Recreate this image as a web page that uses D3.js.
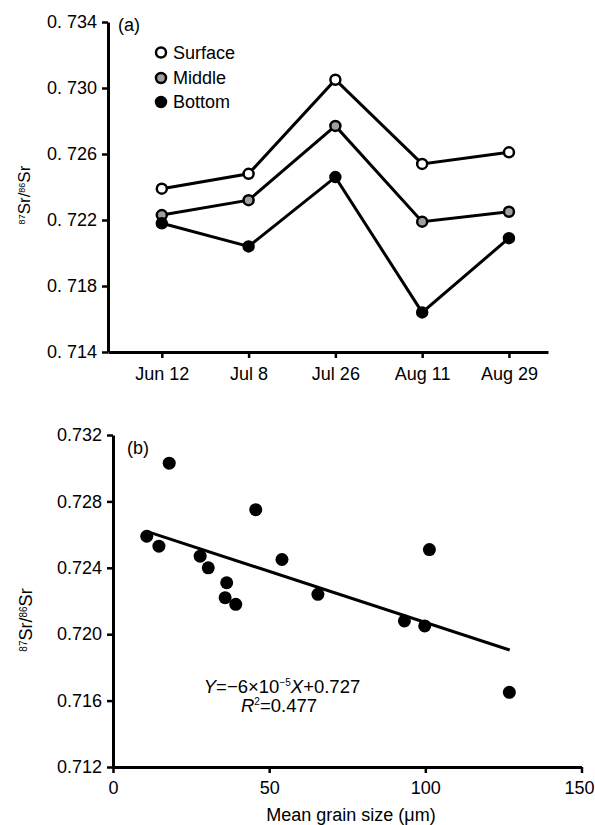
<!DOCTYPE html>
<html>
<head>
<meta charset="utf-8">
<script src="https://cdn.jsdelivr.net/npm/d3@7"></script>
<style>
  html, body { margin: 0; padding: 0; background: #fff; }
  svg { display: block; font-family: "Liberation Sans", Arial, sans-serif; }
</style>
</head>
<body>
<svg id="chart" width="595" height="825"></svg>
<script>
// ---------- Data: panel (a) ----------
const dates = ["Jun 12", "Jul 8", "Jul 26", "Aug 11", "Aug 29"];
const surface = [0.7239, 0.7248, 0.7305, 0.7254, 0.7261];
const middle  = [0.7223, 0.7232, 0.7277, 0.7219, 0.7225];
const bottom  = [0.7218, 0.7204, 0.7246, 0.7164, 0.7209];
const seriesNames = ["Surface", "Middle", "Bottom"];
const yTicksA = [0.714, 0.718, 0.722, 0.726, 0.730, 0.734];

// ---------- Data: panel (b) ----------
const grainSize = [10.8, 14.7, 18.0, 27.9, 30.5, 36.4, 35.9, 39.3, 45.7, 54.1, 65.6, 93.3, 99.8, 101.3, 126.9];
const srRatio   = [0.7259, 0.7253, 0.7303, 0.7247, 0.7240, 0.7231, 0.7222, 0.7218, 0.7275, 0.7245, 0.7224, 0.7208, 0.7205, 0.7251, 0.7165];
const fitSlope = -6.15e-5;
const fitIntercept = 0.72686;
const fitRange = [11, 127];
const xTicksB = [0, 50, 100, 150];
const yTicksB = [0.712, 0.716, 0.720, 0.724, 0.728, 0.732];

const svg = d3.select("#chart");
const FONT = "18px";

function styleAxis(g) {
  g.select(".domain").attr("stroke", "#000").attr("stroke-width", 3);
  g.selectAll(".tick line").attr("stroke", "#000").attr("stroke-width", 2.5);
  g.selectAll(".tick text").attr("fill", "#000").style("font-size", FONT)
    .style("font-family", '"Liberation Sans", Arial, sans-serif');
}

// ================= Panel (a) =================
const xA = d3.scaleLinear().domain([-0.62, 4.45]).range([108, 548]);
const yA = d3.scaleLinear().domain([0.714, 0.734]).range([352, 22]);

const gAy = svg.append("g").attr("transform", "translate(108,0)")
  .call(d3.axisLeft(yA).tickValues(yTicksA).tickSize(6).tickSizeOuter(0).tickPadding(5)
    .tickFormat(d => d3.format(".3f")(d).replace(".", ". ")));
styleAxis(gAy);

const gAx = svg.append("g").attr("transform", "translate(0,352)")
  .call(d3.axisBottom(xA).tickValues(d3.range(dates.length)).tickSize(6).tickSizeOuter(0).tickPadding(9)
    .tickFormat(i => dates[i]));
styleAxis(gAx);

const line = d3.line().x((d, i) => xA(i)).y(d => yA(d));
const seriesData = [surface, middle, bottom];
const fills = ["#fff", "#a0a0a0", "#000"];

seriesData.forEach((s) => {
  svg.append("path").datum(s).attr("d", line)
    .attr("fill", "none").attr("stroke", "#000").attr("stroke-width", 3);
});
seriesData.forEach((s, k) => {
  svg.append("g").selectAll("circle").data(s).join("circle")
    .attr("cx", (d, i) => xA(i)).attr("cy", d => yA(d)).attr("r", 5)
    .attr("fill", fills[k]).attr("stroke", "#000").attr("stroke-width", 2.5);
});

// legend
const legY = [52.5, 78, 102];
seriesNames.forEach((n, k) => {
  svg.append("circle").attr("cx", 161).attr("cy", legY[k]).attr("r", 5)
    .attr("fill", fills[k]).attr("stroke", "#000").attr("stroke-width", 2.5);
  svg.append("text").attr("x", 173).attr("y", legY[k]).attr("dy", "0.36em")
    .style("font-size", FONT).text(n);
});

svg.append("text").attr("x", 118).attr("y", 31).style("font-size", FONT).text("(a)");

// y label (a)
const yLabA = svg.append("text")
  .attr("transform", "translate(30,195) rotate(-90)")
  .attr("text-anchor", "middle").style("font-size", "17px");
yLabA.append("tspan").attr("baseline-shift", "super").style("font-size", "9px").text("87");
yLabA.append("tspan").text("Sr/");
yLabA.append("tspan").attr("baseline-shift", "super").style("font-size", "9px").text("86");
yLabA.append("tspan").text("Sr");

// ================= Panel (b) =================
const xB = d3.scaleLinear().domain([0, 150]).range([113, 581.5]);
const yB = d3.scaleLinear().domain([0.712, 0.732]).range([767, 435]);

const gBy = svg.append("g").attr("transform", "translate(113,0)")
  .call(d3.axisLeft(yB).tickValues(yTicksB).tickSize(6).tickSizeOuter(0).tickPadding(5)
    .tickFormat(d3.format(".3f")));
styleAxis(gBy);

const gBx = svg.append("g").attr("transform", "translate(0,767)")
  .call(d3.axisBottom(xB).tickValues(xTicksB).tickSize(6).tickSizeOuter(0).tickPadding(8)
    .tickFormat(d3.format("d")));
styleAxis(gBx);
gBx.selectAll(".tick text").filter(d => d === 150).attr("dx", -2.5);

// regression line
svg.append("line")
  .attr("x1", xB(fitRange[0])).attr("y1", yB(fitSlope * fitRange[0] + fitIntercept))
  .attr("x2", xB(fitRange[1])).attr("y2", yB(fitSlope * fitRange[1] + fitIntercept))
  .attr("stroke", "#000").attr("stroke-width", 3);

svg.append("g").selectAll("circle").data(grainSize).join("circle")
  .attr("cx", d => xB(d)).attr("cy", (d, i) => yB(srRatio[i])).attr("r", 6.5)
  .attr("fill", "#000");

svg.append("text").attr("x", 127).attr("y", 454).style("font-size", FONT).text("(b)");

// equation
const eq = svg.append("text").attr("x", 282).attr("y", 693).attr("text-anchor", "middle")
  .style("font-size", "18.5px");
eq.append("tspan").style("font-style", "italic").text("Y");
eq.append("tspan").text("=\u22126\u00d710");
eq.append("tspan").attr("dy", -7).style("font-size", "10px").text("\u22125");
eq.append("tspan").attr("dy", 7).style("font-style", "italic").text("X");
eq.append("tspan").text("+0.727");

const r2 = svg.append("text").attr("x", 279).attr("y", 712).attr("text-anchor", "middle")
  .style("font-size", "18.5px");
r2.append("tspan").style("font-style", "italic").text("R");
r2.append("tspan").attr("dy", -7).style("font-size", "10px").text("2");
r2.append("tspan").attr("dy", 7).text("=0.477");

// y label (b)
const yLabB = svg.append("text")
  .attr("transform", "translate(32,620) rotate(-90)")
  .attr("text-anchor", "middle").style("font-size", "18px");
yLabB.append("tspan").attr("baseline-shift", "super").style("font-size", "10px").text("87");
yLabB.append("tspan").text("Sr/");
yLabB.append("tspan").attr("baseline-shift", "super").style("font-size", "10px").text("86");
yLabB.append("tspan").text("Sr");

// x label (b)
svg.append("text").attr("x", 351).attr("y", 821).attr("text-anchor", "middle")
  .style("font-size", FONT).text("Mean grain size (\u03bcm)");
</script>
</body>
</html>
